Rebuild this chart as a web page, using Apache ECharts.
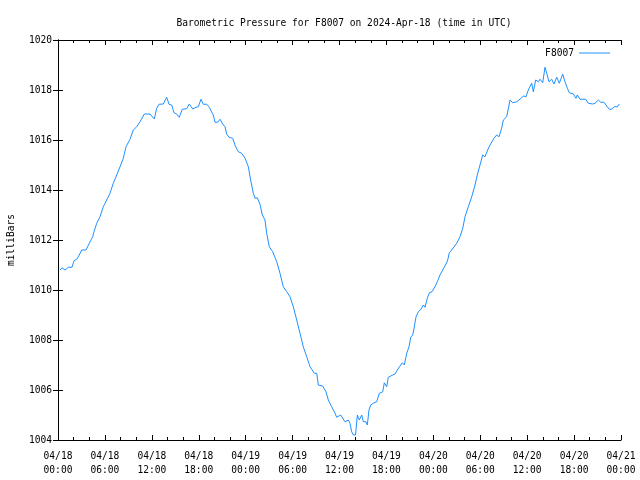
<!DOCTYPE html>
<html><head><meta charset="utf-8">
<script src="https://cdn.jsdelivr.net/npm/echarts@6/dist/echarts.min.js"></script>
<style>html,body{margin:0;padding:0;background:#fff}#c{width:640px;height:480px}</style>
</head><body><div id="c"></div>
<script>
const chartTitle = "Barometric Pressure for F8007 on 2024-Apr-18 (time in UTC)";
const seriesName = "F8007";
const yAxisName = "milliBars";
// hours since 2024-04-18 00:00 UTC
const hours = [0.26,0.51,0.90,1.32,1.79,2.05,2.39,2.72,3.03,3.58,4.00,4.44,4.60,4.95,5.37,5.79,6.23,6.65,7.07,7.51,7.93,8.35,8.70,9.21,9.63,10.06,10.49,11.04,11.77,11.98,12.32,12.62,12.92,13.47,13.90,14.20,14.54,14.84,15.18,15.51,15.90,16.11,16.46,16.79,17.23,17.65,17.94,18.29,18.58,19.02,19.35,19.66,19.86,20.08,20.42,20.72,21.06,21.36,21.57,21.87,22.34,22.68,23.06,23.49,23.92,24.34,24.64,24.98,25.19,25.49,25.83,26.13,26.47,26.69,27.02,27.46,27.97,28.39,28.81,29.25,29.67,30.09,30.53,30.95,31.37,31.81,32.23,32.78,33.09,33.29,33.85,34.27,34.57,35.00,35.43,35.64,36.15,36.70,37.13,37.34,37.56,37.77,38.05,38.28,38.53,38.84,39.05,39.39,39.56,39.77,39.99,40.32,40.76,41.09,41.53,41.73,42.04,42.24,42.46,42.81,43.10,43.39,43.74,44.03,44.29,44.60,44.89,45.11,45.36,45.53,45.79,46.08,46.42,46.72,46.94,47.23,47.49,47.83,48.21,48.51,48.85,49.20,49.62,49.84,50.04,50.35,50.55,50.99,51.41,51.76,52.05,52.47,52.91,53.33,53.62,53.97,54.31,54.61,54.95,55.25,55.76,56.10,56.40,56.74,56.95,57.38,57.81,58.15,58.66,59.08,59.51,59.85,60.15,60.58,60.79,61.09,61.43,61.64,61.99,62.28,62.50,62.79,63.14,63.43,63.78,64.11,64.55,64.84,65.14,65.39,65.90,66.25,66.41,66.76,67.49,67.82,68.04,68.38,68.68,69.10,69.41,69.83,70.17,70.51,70.81,71.11,71.32,71.53,71.79];
const pressure = [1010.80,1010.89,1010.80,1010.91,1010.91,1011.17,1011.23,1011.40,1011.60,1011.60,1011.87,1012.13,1012.33,1012.67,1012.93,1013.33,1013.60,1013.87,1014.27,1014.60,1014.93,1015.27,1015.73,1016.03,1016.40,1016.53,1016.73,1017.04,1017.04,1017.09,1016.84,1017.27,1017.43,1017.44,1017.71,1017.43,1017.40,1017.09,1017.04,1016.91,1017.23,1017.31,1017.25,1017.44,1017.24,1017.31,1017.33,1017.63,1017.43,1017.43,1017.31,1017.11,1017.00,1016.71,1016.71,1016.83,1016.64,1016.53,1016.24,1016.11,1016.07,1015.76,1015.53,1015.47,1015.27,1014.93,1014.40,1013.87,1013.67,1013.69,1013.43,1013.00,1012.80,1012.27,1011.73,1011.53,1011.13,1010.67,1010.13,1009.93,1009.73,1009.33,1008.80,1008.27,1007.73,1007.33,1006.93,1006.67,1006.67,1006.20,1006.16,1005.93,1005.60,1005.33,1005.07,1004.91,1005.00,1004.73,1004.80,1004.67,1004.33,1004.20,1004.20,1005.00,1004.80,1005.00,1004.73,1004.73,1004.60,1005.20,1005.40,1005.47,1005.53,1005.87,1005.93,1006.29,1006.13,1006.51,1006.43,1006.60,1006.64,1006.80,1006.96,1007.09,1007.00,1007.47,1007.73,1008.11,1008.20,1008.47,1008.93,1009.13,1009.23,1009.40,1009.31,1009.67,1009.89,1009.93,1010.13,1010.33,1010.60,1010.80,1011.04,1011.20,1011.49,1011.60,1011.63,1011.87,1012.13,1012.47,1012.93,1013.33,1013.73,1014.20,1014.60,1015.00,1015.40,1015.33,1015.60,1015.80,1016.07,1016.20,1016.13,1016.47,1016.80,1016.93,1017.60,1017.49,1017.53,1017.63,1017.76,1017.73,1018.00,1018.27,1017.93,1018.40,1018.33,1018.43,1018.29,1018.91,1018.67,1018.33,1018.43,1018.24,1018.51,1018.27,1018.63,1018.33,1018.07,1017.89,1017.84,1017.67,1017.80,1017.63,1017.63,1017.47,1017.53,1017.44,1017.47,1017.60,1017.51,1017.51,1017.36,1017.23,1017.23,1017.33,1017.40,1017.33,1017.44];
const xMin = 0, xMax = 72, xStep = 6;
const yMin = 1004, yMax = 1020, yStep = 2;
const startDay = 18, monthStr = "04";

const FONT = "'DejaVu Sans Mono', monospace";
const FS = 9.6;
function xLabel(h) {
  const d = startDay + Math.floor(h / 24);
  const hh = h % 24;
  return monthStr + "/" + String(d).padStart(2, "0") + "\n" + String(hh).padStart(2, "0") + ":00";
}
const axisCommon = {
  axisLine: { show: true, lineStyle: { color: "#000", width: 1 } },
  splitLine: { show: false },
  axisTick: { show: true, inside: true, length: 5, lineStyle: { color: "#000" } }
};
const chart = echarts.init(document.getElementById("c"), null, { renderer: "canvas" });
chart.setOption({
  animation: false,
  backgroundColor: "#fff",
  title: {
    text: chartTitle, left: 339, top: 13, textAlign: "center",
    textStyle: { fontFamily: FONT, fontSize: FS, fontWeight: "normal", color: "#000" }
  },
  legend: {
    data: [seriesName], right: 25, top: 43, align: "right",
    icon: "rect", itemWidth: 31, itemHeight: 1, itemGap: 6,
    textStyle: { fontFamily: FONT, fontSize: FS, color: "#000", padding: [0, 0, 0, 0] }
  },
  grid: { left: 58, right: 19, top: 40, bottom: 40, containLabel: false, outerBoundsMode: "none" },
  xAxis: [
    Object.assign({}, axisCommon, {
      type: "value", min: xMin, max: xMax, interval: xStep, position: "bottom",
      minorTick: { show: true, splitNumber: 3, length: 3, lineStyle: { color: "#000" } },
      axisLabel: { formatter: xLabel, fontFamily: FONT, fontSize: FS, color: "#000", margin: 9, lineHeight: 14, hideOverlap: false }
    }),
    Object.assign({}, axisCommon, {
      type: "value", min: xMin, max: xMax, interval: xStep, position: "top",
      minorTick: { show: true, splitNumber: 3, length: 3, lineStyle: { color: "#000" } },
      axisLabel: { show: false }
    })
  ],
  yAxis: [
    Object.assign({}, axisCommon, {
      type: "value", min: yMin, max: yMax, interval: yStep, position: "left",
      name: yAxisName, nameLocation: "middle", nameRotate: 90, nameGap: 42,
      nameTextStyle: { fontFamily: FONT, fontSize: FS, color: "#000" },
      axisLabel: { formatter: v => String(v), fontFamily: FONT, fontSize: FS, color: "#000", margin: 6 }
    }),
    Object.assign({}, axisCommon, {
      type: "value", min: yMin, max: yMax, interval: yStep, position: "right",
      axisLabel: { show: false }
    })
  ],
  series: [{
    name: seriesName, type: "line", xAxisIndex: 0, yAxisIndex: 0,
    data: hours.map((h, i) => [h, pressure[i]]),
    showSymbol: false, symbol: "none",
    lineStyle: { color: "#1e90ff", width: 1 }, itemStyle: { color: "#1e90ff" }
  }]
});
</script></body></html>
